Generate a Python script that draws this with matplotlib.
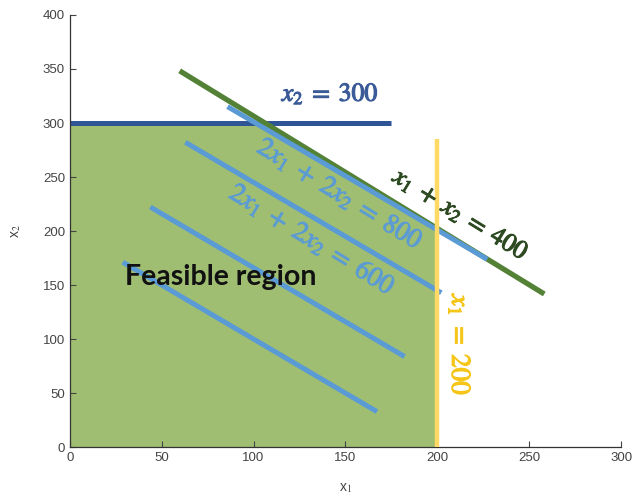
import matplotlib.pyplot as plt
import matplotlib.patheffects as pe
import numpy as np

plt.rcParams["mathtext.fontset"] = "stix"

# feasible region corners
feasible_x = [0, 0, 100, 200, 200]
feasible_y = [0, 300, 300, 200, 0]

# constraint x1 + x2 = 400 (end points as drawn)
green_x = [61, 257]
green_y = [347, 143]

# constraint x2 = 300
cap_x2 = 300
cap_x2_range = [0, 175]

# constraint x1 = 200
cap_x1 = 200
cap_x1_range = [0, 285]

# objective levels 2x1 + 2x2 = c
obj_levels = [802, 690, 532, 400]
obj_x_start = [87, 64, 45, 30]
obj_x_end = [226, 201, 181, 166]

x_ticks = [0, 50, 100, 150, 200, 250, 300]
y_ticks = [0, 50, 100, 150, 200, 250, 300, 350, 400]

fig = plt.figure(figsize=(6.35, 4.99), dpi=100)
ax = fig.add_axes([0.110, 0.104, 0.868, 0.866])

ax.fill(feasible_x, feasible_y, color="#9fbe72", zorder=1)

ax.plot(cap_x2_range, [cap_x2, cap_x2], color="#2f5597", lw=3.6,
        solid_capstyle="butt", zorder=2)

ax.plot(green_x, green_y, color="#538135", lw=3.8, zorder=3)

for c, xa, xb in zip(obj_levels, obj_x_start, obj_x_end):
    xs = np.array([xa, xb])
    ax.plot(xs, c / 2 - xs, color="#5b9bd5", lw=3.6, zorder=4)

ax.plot([cap_x1, cap_x1], cap_x1_range, color="#ffd966", lw=3.2,
        solid_capstyle="butt", zorder=5)


def label(x, y, s, color, rot=0, size=18, alpha=1.0):
    t = ax.text(x, y, s, color=color, fontsize=size, rotation=rot,
                ha="center", va="center", alpha=alpha, zorder=6,
                rotation_mode="anchor")
    t.set_path_effects([pe.withStroke(linewidth=0.8, foreground=color)])
    return t


label(142, 327, r"$x_2\;=\;300$", "#3b5a98", size=18.5)
label(213, 215, r"$x_1\;+\;x_2\;=\;400$", "#2d4a22", rot=-31.5, size=18.5)
label(147, 234, r"$2x_1\;+\;2x_2\;=\;800$", "#5b9bd5", rot=-31.5,
      size=19.5, alpha=0.85)
label(132, 192, r"$2x_1\;+\;2x_2\;=\;600$", "#5b9bd5", rot=-31.5,
      size=19.5, alpha=0.85)
label(212, 94, r"$x_1\;=\;200$", "#f5c518", rot=-90, size=19.5)

ax.text(82, 157, "Feasible region", fontsize=20.5, fontweight="bold",
        family="Lato", color="#111111", ha="center", va="center", zorder=6)

ax.set_xlim(0, 300)
ax.set_ylim(0, 400)
ax.set_xticks(x_ticks)
ax.set_yticks(y_ticks)
ax.spines["top"].set_visible(False)
ax.spines["right"].set_visible(False)
for s in ["left", "bottom"]:
    ax.spines[s].set_color("#333333")
    ax.spines[s].set_linewidth(0.9)
ax.tick_params(direction="in", length=4, colors="#444444", labelsize=9.5,
               labelcolor="#444444")
for lab in ax.get_xticklabels() + ax.get_yticklabels():
    lab.set_family("Liberation Sans")
ax.set_xlabel(r"x$_1$", fontsize=10, color="#444444", family="Liberation Sans",
              labelpad=12)
ax.set_ylabel(r"x$_2$", fontsize=10, color="#444444", family="Liberation Sans",
              labelpad=14)

fig.savefig("out.png", dpi=100)
